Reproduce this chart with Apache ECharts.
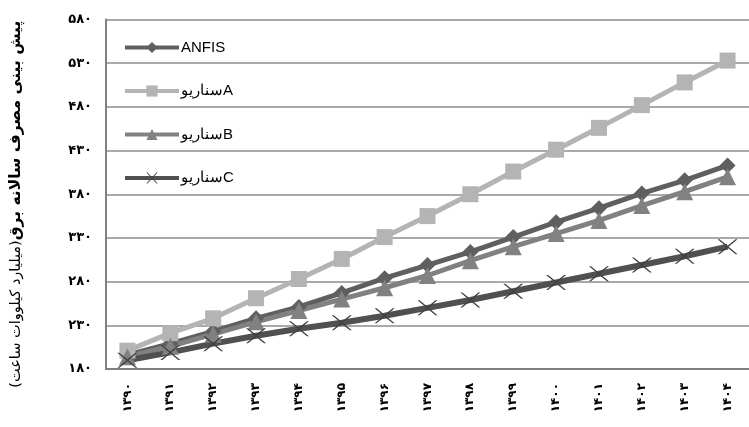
<!DOCTYPE html>
<html><head><meta charset="utf-8">
<script src="https://cdn.jsdelivr.net/npm/echarts@6/dist/echarts.min.js"></script>
<style>html,body{margin:0;padding:0;background:#fff}#c{width:749px;height:427px}</style>
</head><body><div id="c"></div>
<script>
const categories = ['۱۳۹۰','۱۳۹۱','۱۳۹۲','۱۳۹۳','۱۳۹۴','۱۳۹۵','۱۳۹۶','۱۳۹۷','۱۳۹۸','۱۳۹۹','۱۴۰۰','۱۴۰۱','۱۴۰۲','۱۴۰۳','۱۴۰۴'];
const anfis = [196, 209, 223, 238, 251, 267, 284, 299, 314, 331, 348, 364, 381, 396, 413];
const scenarioA = [201, 221, 238, 261, 283, 306, 331, 355, 380, 406, 431, 456, 482, 508, 533];
const scenarioB = [194, 206, 220, 234, 247, 260, 273, 287, 304, 320, 335, 350, 367, 383, 400];
const scenarioC = [190, 199, 209, 218, 226, 233, 241, 250, 259, 269, 279, 289, 299, 309, 320];
const seriesNames = ['ANFIS', 'سناریوA', 'سناریوB', 'سناریوC'];
const yTitleBold = 'پیش بینی مصرف سالانه برق';
const yTitleNormal = '(میلیارد کیلووات ساعت)';
const faDigits = '۰۱۲۳۴۵۶۷۸۹';
const toFa = s => String(s).replace(/[0-9]/g, d => faDigits[+d]);

const crossPath = 'path://M0,0 L2,0 L10,6.5 L18,0 L20,0 L11,7.5 L20,15 L18,15 L10,8.5 L2,15 L0,15 L9,7.5 Z';

const chart = echarts.init(document.getElementById('c'), null, {renderer: 'canvas'});
chart.setOption({
  animation: false,
  backgroundColor: '#fff',
  grid: {left: 103, right: -6, top: 19.5, bottom: 58, show: false},
  legend: {
    orient: 'vertical', left: 118, top: 35, itemGap: 28.5,
    itemWidth: 54, itemHeight: 14,
    lineStyle: {width: 4},
    textStyle: {fontFamily: 'Liberation Sans, Arial, sans-serif', fontSize: 15, color: '#000', padding: [0,0,0,-3]},
    data: seriesNames
  },
  xAxis: {
    type: 'category', data: categories, boundaryGap: true,
    axisLine: {lineStyle: {color: '#808080', width: 2}},
    axisTick: {show: false},
    axisLabel: {rotate: 90, interval: 0, margin: 14, fontSize: 12, fontWeight: 'bold', color: '#000', fontFamily: 'DejaVu Sans, sans-serif'}
  },
  yAxis: {
    type: 'value', min: 180, max: 580, interval: 50,
    name: '{n|' + yTitleNormal + '}{b|' + yTitleBold + '}',
    nameLocation: 'middle', nameRotate: 90, nameGap: 82,
    nameTextStyle: {padding: [0, 20, 0, 0], rich: {
      b: {fontSize: 15.5, fontWeight: 'bold', color: '#000', fontFamily: 'DejaVu Sans, sans-serif'},
      n: {fontSize: 14.5, color: '#000', fontFamily: 'DejaVu Sans, sans-serif'}
    }},
    axisLine: {show: true, lineStyle: {color: '#808080', width: 2}},
    axisTick: {show: false},
    splitLine: {lineStyle: {color: '#8c8c8c', width: 1.5}},
    axisLabel: {margin: 14, fontSize: 13, fontWeight: 'bold', color: '#000', fontFamily: 'DejaVu Sans, sans-serif', formatter: v => toFa(v)}
  },
  series: [
    {name: seriesNames[0], type: 'line', data: anfis, symbol: 'diamond', symbolSize: 16,
     lineStyle: {color: '#5f5f5f', width: 5}, itemStyle: {color: '#5f5f5f'}},
    {name: seriesNames[1], type: 'line', data: scenarioA, symbol: 'rect', symbolSize: 16,
     lineStyle: {color: '#b4b4b4', width: 5}, itemStyle: {color: '#b4b4b4'}},
    {name: seriesNames[2], type: 'line', data: scenarioB, symbol: 'triangle', symbolSize: 17,
     lineStyle: {color: '#818181', width: 5}, itemStyle: {color: '#818181'}},
    {name: seriesNames[3], type: 'line', data: scenarioC, symbol: crossPath, symbolSize: [20, 15], symbolKeepAspect: false,
     lineStyle: {color: '#505050', width: 6}, itemStyle: {color: '#404040'}}
  ]
});
</script></body></html>
